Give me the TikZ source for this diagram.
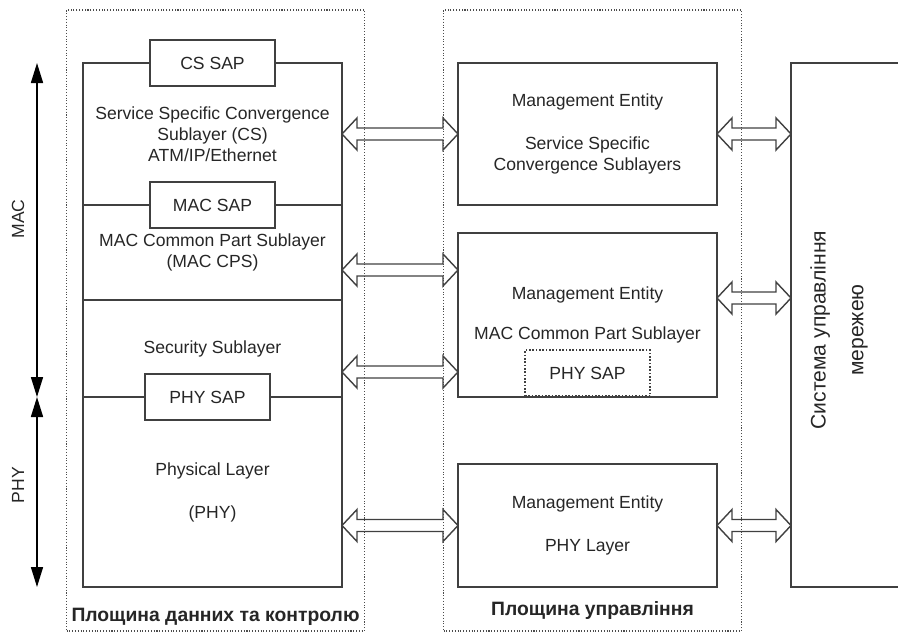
\documentclass[tikz,border=0pt]{standalone}
\usepackage{fontspec}
\setmainfont{Liberation Sans}
\usetikzlibrary{positioning,calc,arrows.meta}

\tikzset{
  plane/.style={draw=black!70, densely dotted, line width=0.6pt, inner sep=0pt, outer sep=0pt,
    anchor=north west, minimum width=5.96cm, minimum height=12.42cm},
  planetitle/.style={font=\fontsize{11}{13}\selectfont\bfseries, text=black!85, inner sep=0pt},
  layer/.style={draw=black!75, line width=0.9pt, inner sep=0pt, outer sep=0pt,
    anchor=north west, minimum width=5.18cm, align=center, text=black!85},
  sap/.style={draw=black!75, line width=0.9pt, fill=white, minimum width=2.5cm,
    minimum height=0.92cm, text=black!85},
  dimarrow/.style={line width=0.9pt,
    {Triangle[length=0.4cm,width=0.24cm]}-{Triangle[length=0.4cm,width=0.24cm]}},
  biarrow/.style={draw=black!75, line width=0.8pt, line join=miter},
}

% hollow double arrow between two points at the same height
\def\ahl{0.3cm} \def\ahw{0.32cm} \def\asw{0.12cm}
\newcommand{\biarrow}[2]{%
  \draw[biarrow] let \p1=#1, \p2=#2 in
    (\x1,\y1) -- ++(\ahl,\ahw) -- ++(0,\asw-\ahw) -- (\x2-\ahl,\y1+\asw)
    -- ++(0,\ahw-\asw) -- (\x2,\y1) -- ++(-\ahl,-\ahw) -- ++(0,\ahw-\asw)
    -- (\x1+\ahl,\y1-\asw) -- ++(0,\asw-\ahw) -- cycle;}

\begin{document}
\begin{tikzpicture}
  \useasboundingbox (0,0) rectangle (17.96,12.66);

  % planes
  \node[plane] (dplane) at (1.33,12.46) {};
  \node[plane] (mplane) at (8.87,12.46) {};
  \node[planetitle, above=0.1cm of dplane.south] (dtitle) {Площина данних та контролю};
  \node[planetitle, above=0.22cm of mplane.south] (mtitle) {Площина управління};

  % data and control plane stack
  \node[layer, minimum height=2.84cm] (cs) at (1.66,11.40)
    {Service Specific Convergence\\Sublayer (CS)\\ATM/IP/Ethernet};
  \node[layer, minimum height=1.90cm, below=0pt of cs] (cps)
    {MAC Common Part Sublayer\\(MAC CPS)};
  \node[layer, minimum height=1.94cm, below=0pt of cps] (sec) {Security Sublayer};
  \node[layer, minimum height=3.80cm, below=0pt of sec] (phy)
    {Physical Layer\\[12.5pt](PHY)};
  \node[sap] (cssap) at (cs.north) {CS SAP};
  \node[sap] (macsap) at (cs.south) {MAC SAP};
  \node[sap, xshift=-0.1cm] (physap) at (sec.south) {PHY SAP};

  % MAC / PHY extent
  \coordinate (dimx) at (0.74,0);
  \draw[dimarrow] (cs.north -| dimx) -- (sec.south -| dimx);
  \draw[dimarrow] (phy.north -| dimx) -- (phy.south -| dimx);
  \node[rotate=90, text=black!85] (maclbl) at (0.36,8.28) {MAC};
  \node[rotate=90, text=black!85] (phylbl) at (0.36,2.96) {PHY};

  % management plane
  \node[layer, minimum height=2.84cm] (me1) at (9.16,11.40)
    {Management Entity\\[12pt]Service Specific\\Convergence Sublayers};
  \node[layer, minimum height=3.28cm] (me2) at (9.16,8.00)
    {Management Entity\\[11pt]MAC Common Part Sublayer};
  \node[sap, densely dotted, anchor=south] (mesap) at (me2.south) {PHY SAP};
  \node[layer, minimum height=2.46cm] (me3) at (9.16,3.38)
    {Management Entity\\[12.5pt]PHY Layer};

  % network management system
  \node[layer, minimum width=3cm, minimum height=10.48cm] (nms) at (15.82,11.40) {};
  \node[rotate=90, align=center, text=black!85, font=\fontsize{12}{14.5}\selectfont]
    (nmstext) at (16.78,6.06) {Система управління\\[7pt]мережею};

  % links
  \coordinate (ya) at (0,7.26);
  \coordinate (yb) at (0,5.22);
  \coordinate (yc) at (0,6.70);
  \biarrow{(cs.east)}{(me1.west)}
  \biarrow{(cps.east |- ya)}{(me2.west |- ya)}
  \biarrow{(sec.east |- yb)}{(me2.west |- yb)}
  \biarrow{(phy.east |- me3.west)}{(me3.west)}
  \biarrow{(me1.east)}{(nms.west |- me1.east)}
  \biarrow{(me2.east |- yc)}{(nms.west |- yc)}
  \biarrow{(me3.east)}{(nms.west |- me3.east)}
\end{tikzpicture}
\end{document}
